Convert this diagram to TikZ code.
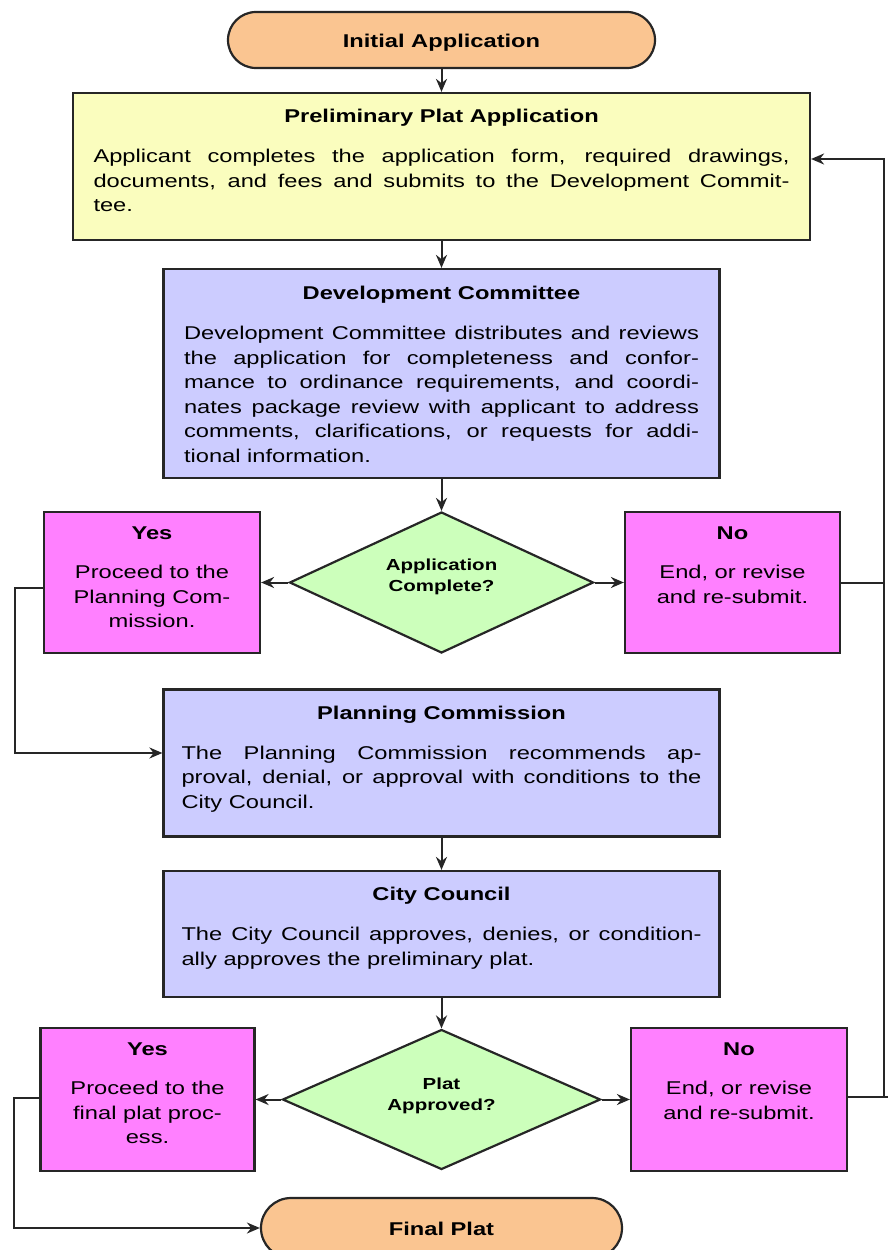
\documentclass[tikz,border=0pt]{standalone}
\usepackage{fontspec}
\setmainfont[FakeStretch=1.28]{Liberation Sans}
\usetikzlibrary{positioning,shapes.geometric,arrows.meta}

\definecolor{peach}{RGB}{250,197,145}
\definecolor{paleyellow}{RGB}{250,253,190}
\definecolor{lavender}{RGB}{204,204,255}
\definecolor{palegreen}{RGB}{204,255,187}
\definecolor{pinkbox}{RGB}{255,128,255}

\tikzset{
	flowbox/.style={rectangle, draw=black!85, line width=2.2pt, inner sep=0pt},
	terminal/.style={flowbox, rounded corners=28pt, fill=peach, text height=19pt, text depth=4pt, font=\fontsize{18.5}{24.5}\selectfont\bfseries},
	decision/.style={diamond, draw=black!85, line width=2.2pt, fill=palegreen, inner sep=0pt, align=center, font=\fontsize{16}{21}\selectfont\bfseries},
	bodytext/.style={inner sep=0pt, anchor=north, align=justify, font=\fontsize{18.5}{24.5}\selectfont},
	choicetext/.style={inner sep=0pt, anchor=north, align=center, font=\fontsize{18.5}{24.5}\selectfont},
	link/.style={line width=2pt, draw=black!85},
	arrowlink/.style={link, -{Stealth[length=13pt,width=11pt]}}
}
\newcommand{\boxtitle}[1]{{\centering\bfseries #1\par}\vspace{15.5pt}}

\begin{document}
\begin{tikzpicture}[x=1pt,y=-1pt]
	\useasboundingbox (0,0) rectangle (887,1250);

	\node[terminal, minimum width=427pt, minimum height=56pt](init) at (441.5,40){Initial Application};

	\node[flowbox, fill=paleyellow, minimum width=737pt, minimum height=147pt](prelim) at (441.5,166.5){};
	\node[bodytext, text width=696pt, below=17pt of prelim.north](prelimText){\boxtitle{Preliminary Plat Application}Applicant completes the application form, required drawings,\linebreak documents, and fees and submits to the Development Commit-\linebreak tee.};

	\node[flowbox, fill=lavender, minimum width=556pt, minimum height=209pt](devc) at (441.5,373.5){};
	\node[bodytext, text width=515pt, below=18pt of devc.north](devcText){\boxtitle{Development Committee}Development Committee distributes and reviews\linebreak the application for completeness and confor-\linebreak mance to ordinance requirements, and coordi-\linebreak nates package review with applicant to address\linebreak comments, clarifications, or requests for addi-\linebreak tional information.};

	\node[decision, minimum width=304pt, minimum height=141pt](appDone) at (441.5,582.5){};
	\node[font=\fontsize{16}{21}\selectfont\bfseries, align=center, inner sep=0pt](appDoneText) at (441.5,577){Application\\Complete?};

	\node[flowbox, fill=pinkbox, minimum width=216pt, minimum height=141pt](yesOne) at (152,582.5){};
	\node[choicetext, below=16pt of yesOne.north](yesOneText){\textbf{Yes}\\[14.5pt]Proceed to the\\Planning Com-\\mission.};
	\node[flowbox, fill=pinkbox, minimum width=215pt, minimum height=141pt](noOne) at (732.5,582.5){};
	\node[choicetext, below=16pt of noOne.north](noOneText){\textbf{No}\\[14.5pt]End, or revise\\and re-submit.};

	\node[flowbox, fill=lavender, minimum width=556pt, minimum height=147pt](plan) at (441.5,763){};
	\node[bodytext, text width=520pt, below=17pt of plan.north](planText){\boxtitle{Planning Commission}The Planning Commission recommends ap-\linebreak proval, denial, or approval with conditions to the\linebreak City Council.};

	\node[flowbox, fill=lavender, minimum width=556pt, minimum height=126pt](city) at (441.5,934){};
	\node[bodytext, text width=520pt, below=17pt of city.north](cityText){\boxtitle{City Council}The City Council approves, denies, or condition-\linebreak ally approves the preliminary plat.};

	\node[decision, minimum width=318pt, minimum height=140pt](platOk) at (441.5,1099.5){};
	\node[font=\fontsize{16}{21}\selectfont\bfseries, align=center, inner sep=0pt](platOkText) at (441.5,1096){Plat\\Approved?};

	\node[flowbox, fill=pinkbox, minimum width=214pt, minimum height=143pt](yesTwo) at (147.5,1099.5){};
	\node[choicetext, below=16pt of yesTwo.north](yesTwoText){\textbf{Yes}\\[14.5pt]Proceed to the\\final plat proc-\\ess.};
	\node[flowbox, fill=pinkbox, minimum width=216pt, minimum height=143pt](noTwo) at (739,1099.5){};
	\node[choicetext, below=16pt of noTwo.north](noTwoText){\textbf{No}\\[14.5pt]End, or revise\\and re-submit.};

	\node[terminal, minimum width=361pt, minimum height=60pt, rounded corners=30pt](final) at (441.5,1228){Final Plat};

	% main column
	\draw[arrowlink] (init) -- (prelim);
	\draw[arrowlink] (prelim) -- (devc);
	\draw[arrowlink] (devc) -- (appDone);
	\draw[arrowlink] (plan) -- (city);
	\draw[arrowlink] (city) -- (platOk);

	% decisions
	\draw[arrowlink] (appDone.west) -- (yesOne.east);
	\draw[arrowlink] (appDone.east) -- (noOne.west);
	\draw[arrowlink] (platOk.west) -- (yesTwo.east);
	\draw[arrowlink] (platOk.east) -- (noTwo.west);

	% yes branches
	\draw[arrowlink] ([yshift=-5.5pt]yesOne.west) -- ++(-28,0) |- ([yshift=10pt]plan.west);
	\draw[arrowlink] ([yshift=1.5pt]yesTwo.west) -- ++(-25,0) |- (final.west);

	% re-submit loop
	\coordinate (loopR) at (884,1097);
	\draw[link] (noOne.east) -- (noOne.east -| loopR);
	\draw[link] ([yshift=2.5pt]noTwo.east) -- ++(45,0);
	\draw[arrowlink] (loopR) |- ([yshift=7.5pt]prelim.east);
\end{tikzpicture}
\end{document}
